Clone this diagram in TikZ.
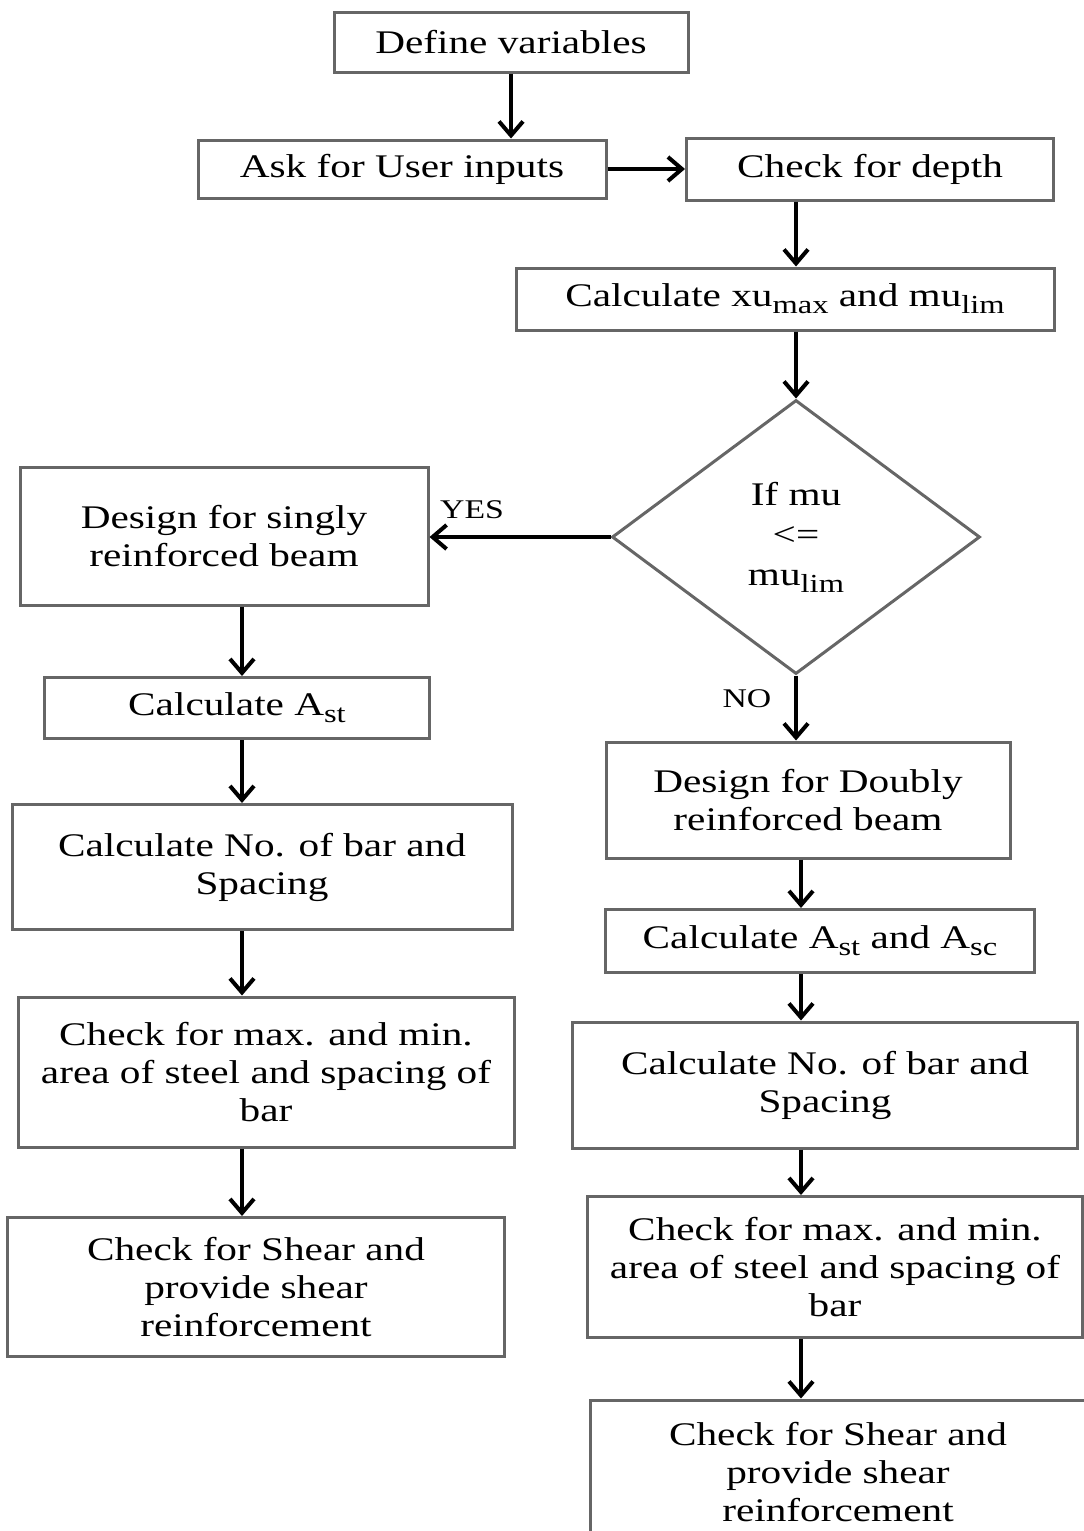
\documentclass[tikz,border=0pt]{standalone}
\usepackage{fontspec}
\setmainfont[FakeStretch=1.25]{Liberation Serif}
\usetikzlibrary{shapes.geometric,arrows.meta}
\newcommand\lowsub[1]{\raisebox{-3.5pt}{\fontsize{13pt}{13pt}\selectfont #1}}

\begin{document}
\begin{tikzpicture}[x=.5pt,y=-.5pt,
		font=\fontsize{16.5pt}{19pt}\selectfont,
		box/.style={draw=black!60,line width=1.5pt,align=center,inner sep=2pt},
		cond/.style={diamond,draw=black!60,line width=1.5pt,align=center,inner sep=0pt,minimum width=184pt,minimum height=137pt},
		flow/.style={line width=2pt,-{Straight Barb[length=7pt,width=12pt]}},
		lbl/.style={font=\fontsize{13.5pt}{16pt}\selectfont}]
	\useasboundingbox (0,0) rectangle (1083,1531);
	% top of the chart
	\node[box,minimum width=177pt,minimum height=30pt] (def) at (511,42) {Define variables};
	\node[box,minimum width=204pt,minimum height=29pt] (ask) at (402,169) {Ask for User inputs};
	\node[box,minimum width=183.5pt,minimum height=31pt] (dep) at (870,169) {Check for depth};
	\node[box,minimum width=269pt,minimum height=31pt] (xu) at (785,299) {Calculate xu\lowsub{max} and mu\lowsub{lim}};
	\node[cond,font=\fontsize{16.5pt}{20pt}\selectfont] (dec) at (796,537) {If mu\\<=\\mu\lowsub{lim}};
	% left column (singly)
	\node[box,minimum width=204pt,minimum height=69pt] (sng) at (224,536) {Design for singly\\reinforced beam};
	\node[box,minimum width=192.5pt,minimum height=30.5pt] (ast) at (237,708) {Calculate A\lowsub{st}};
	\node[box,minimum width=250pt,minimum height=62.5pt] (nbl) at (262,867) {Calculate No. of bar and\\Spacing};
	\node[box,minimum width=248pt,minimum height=75pt] (cml) at (266,1072) {Check for max. and min.\\area of steel and spacing of\\bar};
	\node[box,minimum width=248.5pt,minimum height=69.5pt] (shl) at (256,1287) {Check for Shear and\\provide shear\\reinforcement};
	% right column (doubly)
	\node[box,minimum width=202pt,minimum height=58pt] (dbl) at (808,800) {Design for Doubly\\reinforced beam};
	\node[box,minimum width=214.5pt,minimum height=31.5pt] (asc) at (820,941) {Calculate A\lowsub{st} and A\lowsub{sc}};
	\node[box,minimum width=252.5pt,minimum height=63pt] (nbr) at (825,1085) {Calculate No. of bar and\\Spacing};
	\node[box,minimum width=247.5pt,minimum height=70.5pt] (cmr) at (835,1267) {Check for max. and min.\\area of steel and spacing of\\bar};
	\node[box,minimum width=248pt,minimum height=72pt] (shr) at (838,1472) {Check for Shear and\\provide shear\\reinforcement};
	\coordinate (lx) at (242,0);
	\coordinate (rx) at (801,0);
	% connectors
	\draw[flow] (def.south) -- (def.south |- ask.north);
	\draw[flow] (ask.east) -- (ask.east -| dep.west);
	\draw[flow] (dec.north |- dep.south) -- (dec.north |- xu.north);
	\draw[flow] (dec.north |- xu.south) -- (dec.north);
	\draw[flow] (dec.west) -- (dec.west -| sng.east) node[lbl,anchor=south west,pos=1,xshift=1pt,yshift=5pt] (yes) {YES};
	\draw[flow] (dec.south) -- (dec.south |- dbl.north) node[lbl,anchor=east,pos=.35,xshift=-8pt] (no) {NO};
	\draw[flow] (sng.south -| lx) -- (ast.north -| lx);
	\draw[flow] (ast.south -| lx) -- (nbl.north -| lx);
	\draw[flow] (nbl.south -| lx) -- (cml.north -| lx);
	\draw[flow] (cml.south -| lx) -- (shl.north -| lx);
	\draw[flow] (dbl.south -| rx) -- (asc.north -| rx);
	\draw[flow] (asc.south -| rx) -- (nbr.north -| rx);
	\draw[flow] (nbr.south -| rx) -- (cmr.north -| rx);
	\draw[flow] (cmr.south -| rx) -- (shr.north -| rx);
\end{tikzpicture}
\end{document}
